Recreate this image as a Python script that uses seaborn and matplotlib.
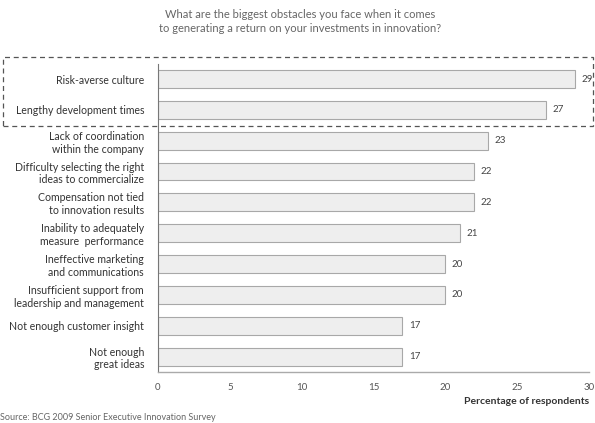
import matplotlib
matplotlib.use("Agg")
import matplotlib.pyplot as plt
import seaborn as sns
import pandas as pd
from matplotlib.patches import Rectangle

categories = [
    "Risk-averse culture",
    "Lengthy development times",
    "Lack of coordination\nwithin the company",
    "Difficulty selecting the right\nideas to commercialize",
    "Compensation not tied\nto innovation results",
    "Inability to adequately\nmeasure  performance",
    "Ineffective marketing\nand communications",
    "Insufficient support from\nleadership and management",
    "Not enough customer insight",
    "Not enough\ngreat ideas",
]
values = [29, 27, 23, 22, 22, 21, 20, 20, 17, 17]
x_ticks = [0, 5, 10, 15, 20, 25, 30]

title = ("What are the biggest obstacles you face when it comes\n"
         "to generating a return on your investments in innovation?")
x_label = "Percentage of respondents"
source = "Source: BCG 2009 Senior Executive Innovation Survey"

sns.set_style("white")
plt.rcParams["font.family"] = ["Lato", "DejaVu Sans"]

df = pd.DataFrame({"category": categories, "value": values})

fig = plt.figure(figsize=(5.95, 4.23), dpi=100)
ax = fig.add_axes([0.2655, 0.1206, 0.7245, 0.729])

sns.barplot(data=df, x="value", y="category", orient="h", ax=ax,
            color="#eeeeee", edgecolor="#a8a8a8", linewidth=0.8,
            width=0.58, saturation=1)

for i, v in enumerate(values):
    ax.text(v + 0.45, i, str(v), va="center", ha="left",
            fontsize=7, color="#444444")

ax.set_xlim(0, 30)
ax.set_ylim(9.5, -0.5)
ax.set_xticks(x_ticks)
ax.set_xticklabels([str(t) for t in x_ticks], fontsize=7, color="#555555")
ax.tick_params(axis="x", length=0, pad=8)
ax.tick_params(axis="y", length=0, pad=10, labelsize=7.6, labelcolor="#333333")
ax.set_ylabel("")
ax.set_xlabel("")

for s in ["top", "right"]:
    ax.spines[s].set_visible(False)
ax.spines["left"].set_color("#777777")
ax.spines["left"].set_linewidth(0.8)
ax.spines["bottom"].set_color("#aaaaaa")
ax.spines["bottom"].set_linewidth(1.0)

fig.text(0.505, 0.949, title, ha="center", va="center",
         fontsize=8, color="#666666", linespacing=1.3)
fig.text(0.99, 0.05, x_label, ha="right", va="center",
         fontsize=7.5, fontweight="bold", color="#333333")
fig.text(0.0, 0.012, source, ha="left", va="center",
         fontsize=6.5, color="#666666")

# dashed highlight box around the top two rows
box = Rectangle((3 / 595, 1 - 126 / 423), 590 / 595, 69 / 423,
                transform=fig.transFigure, fill=False,
                edgecolor="#555555", linestyle=(0, (4, 3)), linewidth=0.9)
fig.add_artist(box)

fig.savefig("out.png", dpi=100)
